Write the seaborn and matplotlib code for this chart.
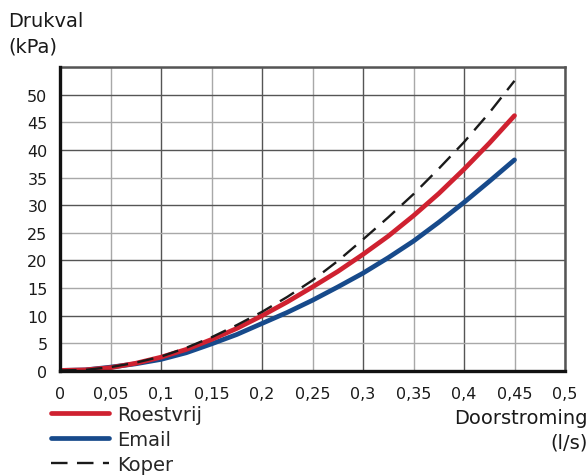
import matplotlib
matplotlib.use("Agg")
import matplotlib.pyplot as plt
import seaborn as sns
import pandas as pd

flow = [0, 0.025, 0.05, 0.075, 0.1, 0.125, 0.15, 0.175, 0.2, 0.225, 0.25,
        0.275, 0.3, 0.325, 0.35, 0.375, 0.4, 0.425, 0.45]
roestvrij = [0.1, 0.2, 0.6, 1.4, 2.5, 3.9, 5.7, 7.7, 10.0, 12.5, 15.2,
             18.0, 21.1, 24.4, 28.1, 32.1, 36.5, 41.2, 46.2]
email = [0.1, 0.2, 0.7, 1.3, 2.1, 3.3, 4.9, 6.6, 8.6, 10.6, 12.8,
         15.2, 17.7, 20.5, 23.5, 26.9, 30.5, 34.3, 38.2]
koper = [0.1, 0.2, 0.7, 1.5, 2.6, 4.2, 6.1, 8.3, 10.7, 13.4, 16.4,
         19.9, 23.8, 27.8, 32.0, 36.6, 41.4, 46.7, 52.5]

x_ticks = [0, 0.05, 0.1, 0.15, 0.2, 0.25, 0.3, 0.35, 0.4, 0.45, 0.5]
x_labels = ["0", "0,05", "0,1", "0,15", "0,2", "0,25", "0,3", "0,35", "0,4", "0,45", "0,5"]
y_ticks = [0, 5, 10, 15, 20, 25, 30, 35, 40, 45, 50, 55]
y_labels = ["0", "5", "10", "15", "20", "25", "30", "35", "40", "45", "50", ""]

sns.set_style("white")
plt.rcParams["font.family"] = ["DejaVu Sans"]

fig = plt.figure(figsize=(5.88, 4.77), dpi=100)
ax = fig.add_axes([60/588, 1-372/477, 505/588, 304/477])

dark = "#555555"
light = "#a8a8a8"
for i, xv in enumerate(x_ticks):
    ax.axvline(xv, color=dark if i % 2 == 0 else light, lw=1.0, zorder=1)
for i, yv in enumerate(y_ticks):
    ax.axhline(yv, color=dark if i % 2 == 0 else light, lw=1.0, zorder=1)

df = pd.DataFrame({"flow": flow, "Roestvrij": roestvrij, "Email": email, "Koper": koper})
sns.lineplot(data=df, x="flow", y="Koper", ax=ax, color="#1a1a1a", lw=1.7,
             label="Koper", zorder=4)
ax.lines[-1].set_dashes([7, 4])
sns.lineplot(data=df, x="flow", y="Email", ax=ax, color="#174a8b", lw=3.4,
             label="Email", zorder=3, solid_capstyle="round")
sns.lineplot(data=df, x="flow", y="Roestvrij", ax=ax, color="#cf2130", lw=3.4,
             label="Roestvrij", zorder=3, solid_capstyle="round")

ax.set_xlim(0, 0.5)
ax.set_ylim(0, 55)
ax.set_xticks(x_ticks)
ax.set_xticklabels(x_labels)
ax.set_yticks(y_ticks)
ax.set_yticklabels(y_labels)
ax.set_xlabel("")
ax.set_ylabel("")
ax.tick_params(axis="both", direction="out", length=5, width=1.0, color=dark,
               labelsize=11.5, labelcolor="#1a1a1a", pad=4)
ax.tick_params(axis="x", pad=6)

for side in ["left", "bottom"]:
    ax.spines[side].set_color("#111111")
    ax.spines[side].set_linewidth(2.4)
    ax.spines[side].set_zorder(5)
for side in ["top", "right"]:
    ax.spines[side].set_color(dark)
    ax.spines[side].set_linewidth(1.8)

handles, labels = ax.get_legend_handles_labels()
order = [labels.index("Roestvrij"), labels.index("Email"), labels.index("Koper")]
ax.legend([handles[i] for i in order], [labels[i] for i in order],
          loc="upper left", bbox_to_anchor=(51/588, 1-406/477),
          bbox_transform=fig.transFigure, frameon=False, fontsize=14,
          handlelength=3.0, handletextpad=0.4, labelspacing=0.3, borderpad=0,
          borderaxespad=0)

fig.text(8/588, 1-12/477, "Drukval\n(kPa)", ha="left", va="top", fontsize=14,
         linespacing=1.45, color="#1a1a1a")
fig.text(588/588, 1-409/477, "Doorstroming\n(l/s)", ha="right", va="top", fontsize=14,
         linespacing=1.4, multialignment="right", color="#1a1a1a")

fig.savefig("out.png", dpi=100)
